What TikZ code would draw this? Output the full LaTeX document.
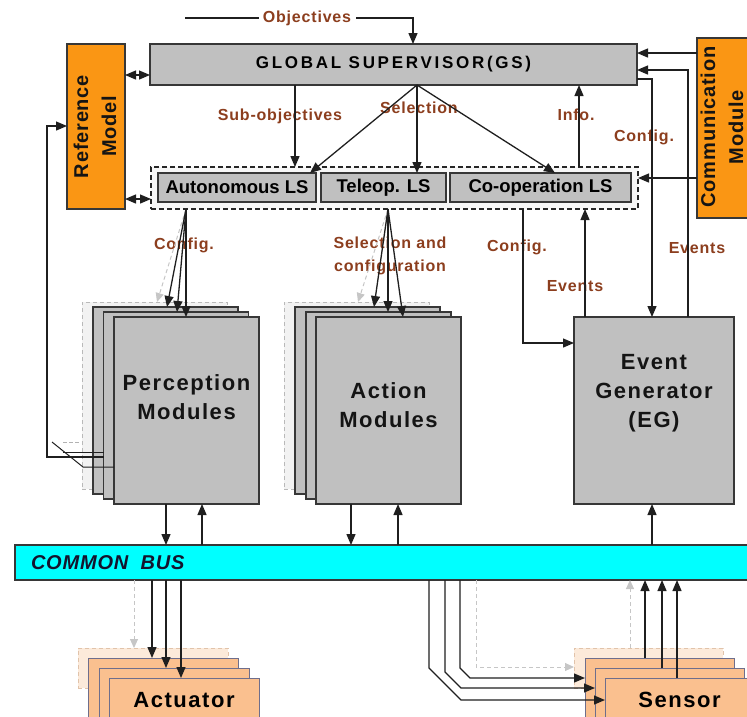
\documentclass[tikz,border=0pt]{standalone}
\usepackage{fontspec}
\setmainfont{Liberation Sans}
\usetikzlibrary{arrows.meta}

\definecolor{lblc}{RGB}{140,62,30}
\definecolor{boxgray}{RGB}{192,192,192}
\definecolor{edge}{RGB}{55,55,55}
\definecolor{orng}{RGB}{250,150,20}
\definecolor{peach}{RGB}{250,192,143}
\definecolor{peachedge}{RGB}{110,110,140}
\definecolor{cyanbus}{RGB}{0,255,255}
\definecolor{busc}{RGB}{20,20,45}
\definecolor{ghostfill}{RGB}{242,242,242}
\definecolor{ghostedge}{RGB}{185,185,185}
\definecolor{peachghost}{RGB}{252,234,218}
\definecolor{peachghostedge}{RGB}{225,195,170}

\newcommand\fsz[2]{\fontsize{#1}{#2}\selectfont}
\newcommand\trk[1]{\addfontfeature{LetterSpace=#1}}

\begin{document}
\begin{tikzpicture}[x=1pt,y=-1pt,
  every node/.style={inner sep=0pt, outer sep=0pt},
  tip/.tip={Triangle[length=11pt,width=9pt]},
  conn/.style={draw=black!88, line width=1.3pt},
  arr/.style={conn, -tip},
  darr/.style={conn, tip-tip},
  ghostarr/.style={draw=gray!45, line width=1pt, dash pattern=on 4pt off 3pt, -{Triangle[length=9pt,width=8pt]}},
  graybox/.style={draw=edge, fill=boxgray, line width=1.3pt},
  orangebox/.style={draw=edge, fill=orng, line width=1.3pt},
  lsframe/.style={draw=black!85, fill=gray!6, line width=1.2pt, dash pattern=on 5pt off 3pt},
  lsbox/.style={graybox, font=\fsz{18.5}{20}\bfseries},
  stackbox/.style={graybox, minimum width=145pt, minimum height=187pt},
  ghostbox/.style={draw=ghostedge, fill=ghostfill, line width=0.9pt, dash pattern=on 4pt off 3pt, minimum width=145pt, minimum height=187pt},
  peachbox/.style={draw=peachedge, fill=peach, line width=1pt, minimum width=150pt},
  peachghostbox/.style={draw=peachghostedge, fill=peachghost, line width=0.9pt, dash pattern=on 4pt off 3pt, minimum width=150pt, minimum height=40pt},
  modtext/.style={align=center, text=black!92, font=\fsz{22}{29}\bfseries\trk{7}},
  rottext/.style={rotate=90, align=center, text=black!92, font=\fsz{20}{28}\bfseries\trk{4}},
  lbl/.style={align=center, text=lblc, font=\fsz{16}{23}\bfseries\trk{5}}]

\useasboundingbox (0,0) rectangle (747,716);
\clip (0,0) rectangle (747,716);

% ---------- supervisor level ----------
\node[graybox, minimum width=487pt, minimum height=41pt,
      font=\fsz{17}{20}\bfseries\trk{16}] (gs) at (393.5,64.5) {GLOBAL SUPERVISOR(GS)};

\node[orangebox, minimum width=58pt, minimum height=165pt] (ref) at (96,126.5) {};
\node[rottext] (reftext) at (95,126.5) {Reference\\Model};

\node[orangebox, minimum width=73pt, minimum height=180pt] (comm) at (733.5,128) {};
\node[rottext] (commtext) at (722,127) {Communication\\Module};

% ---------- local supervisors ----------
\node[lsframe, minimum width=487pt, minimum height=42pt] (lsf) at (394.5,188) {};
\node[lsbox, minimum width=158pt, minimum height=29pt] (auto) at (237,187.5) {Autonomous LS};
\node[lsbox, minimum width=125pt, minimum height=29pt] (tele) at (383.5,187.5) {Teleop. LS};
\node[lsbox, minimum width=181pt, minimum height=29pt] (coop) at (540.5,187.5) {Co-operation LS};

% ---------- module stacks ----------
\node[ghostbox] (pghost) at (154.5,395.5) {};
\node[stackbox] (p1) at (165.5,400.5) {};
\node[stackbox] (p2) at (176,405.5) {};
\node[stackbox] (p3) at (186.5,410.5) {};
\node[modtext] (ptext) at (186.5,397) {Perception\\Modules};

\node[ghostbox] (aghost) at (356.5,395.5) {};
\node[stackbox] (a1) at (367.5,400.5) {};
\node[stackbox] (a2) at (378.5,405.5) {};
\node[stackbox] (a3) at (388.5,410.5) {};
\node[modtext] (atext) at (388.5,405) {Action\\Modules};

\node[graybox, minimum width=160pt, minimum height=187pt] (eg) at (654,410.5) {};
\node[modtext] (egtext) at (654,393.5) {Event\\Generator\\(EG)};

% ---------- bus ----------
\node[draw=edge, fill=cyanbus, line width=1.2pt, minimum width=755pt, minimum height=35pt] (bus) at (392.5,562.5) {};
\node[anchor=west, text=busc, font=\fsz{20}{22}\bfseries\itshape\trk{4}] (bustext) at (31,563) {COMMON\hspace{6pt} BUS};

% ---------- actuators and sensors ----------
\node[peachghostbox] (actghost) at (153,668) {};
\node[peachbox, minimum height=64pt] (act1) at (163,690) {};
\node[peachbox, minimum height=54pt] (act2) at (174,695) {};
\node[peachbox, minimum height=44pt, font=\fsz{22}{26}\bfseries\trk{7}] (act3) at (184,700) {Actuator};

\node[peachghostbox, minimum width=149pt] (sghost) at (648.5,668) {};
\node[peachbox, minimum width=149pt, minimum height=64pt] (s1) at (659.5,690) {};
\node[peachbox, minimum width=149pt, minimum height=54pt] (s2) at (669.5,695) {};
\node[peachbox, minimum width=149pt, minimum height=44pt, font=\fsz{22}{26}\bfseries\trk{7}] (s3) at (679.5,700) {Sensor};

% ---------- labels ----------
\node[lbl] (lobj) at (307,18) {Objectives};
\node[lbl] (lsub) at (280,116) {Sub-objectives};
\node[lbl] (lsel) at (419,108) {Selection};
\node[lbl] (linfo) at (576,115) {Info.};
\node[lbl] (lcfgeg) at (644,137) {Config.};
\node[lbl] (lcfgp) at (184,245) {Config.};
\node[lbl] (lselcfg) at (390,256) {Selection and\\configuration};
\node[lbl] (lcfgco) at (517,247) {Config.};
\node[lbl] (levco) at (575,286) {Events};
\node[lbl] (levgs) at (697,248) {Events};

% ---------- connectors: supervisor level ----------
\coordinate (objin) at (185,18);
\draw[conn] (objin) -- ([xshift=-4pt]lobj.west);
\draw[arr] ([xshift=5pt]lobj.east) -| (gs.north -| 413,0);

\draw[darr] (ref.east |- 0,75) -- (gs.west |- 0,75);
\draw[darr] (ref.east |- 0,199) -- (lsf.west |- 0,199);

\draw[arr] (gs.south -| 295,0) -- (lsf.north -| 295,0);
\draw[arr] (gs.south -| 417,0) -- (auto.north -| 310,0);
\draw[arr] (gs.south -| 417,0) -- (tele.north -| 417,0);
\draw[arr] (gs.south -| 417,0) -- (coop.north -| 555,0);
\draw[arr] (lsf.north -| 579,0) -- (gs.south -| 579,0);

\draw[arr] (comm.west |- 0,53) -- (gs.east |- 0,53);
\draw[arr] (comm.west |- 0,178) -- (lsf.east |- 0,178);

\draw[arr] (gs.east |- 0,79) -| (eg.north -| 652,0);
\draw[arr] (eg.north -| 688,0) |- (gs.east |- 0,70);

\draw[arr] (lsf.south -| 523,0) |- (eg.west |- 0,343);
\draw[arr] (eg.north -| 585,0) -- (lsf.south -| 585,0);

% ---------- connectors: configuration of modules ----------
\draw[ghostarr] (lsf.south -| 186,0) -- (pghost.north -| 157,0);
\draw[arr] (lsf.south -| 186,0) -- (p1.north -| 167,0);
\draw[arr] (lsf.south -| 186,0) -- (p2.north -| 177,0);
\draw[arr] (lsf.south -| 186,0) -- (p3.north -| 186,0);

\draw[ghostarr] (lsf.south -| 388,0) -- (aghost.north -| 358,0);
\draw[arr] (lsf.south -| 388,0) -- (a1.north -| 374,0);
\draw[arr] (lsf.south -| 388,0) -- (a2.north -| 388,0);
\draw[arr] (lsf.south -| 388,0) -- (a3.north -| 403,0);

% ---------- feedback to the reference model ----------
\draw[arr] (p2.west |- 0,457) -- (47,457) |- (ref.west |- 0,126);
\draw[conn, line width=1pt] (52,442) -- (83,467) -- (p3.west |- 0,467);
\draw[conn, line width=1pt] (63,452) -- (p2.west |- 0,452);
\draw[draw=gray!60, line width=1pt, dash pattern=on 4pt off 2pt] (63,442) -- (80,442);

% ---------- connectors to and from the bus ----------
\draw[arr] (p3.south -| 166,0) -- (bus.north -| 166,0);
\draw[arr] (bus.north -| 202,0) -- (p3.south -| 202,0);
\draw[arr] (a3.south -| 351,0) -- (bus.north -| 351,0);
\draw[arr] (bus.north -| 398,0) -- (a3.south -| 398,0);
\draw[arr] (bus.north -| 652,0) -- (eg.south -| 652,0);

\draw[ghostarr] (bus.south -| 134,0) -- (actghost.north -| 134,0);
\draw[arr] (bus.south -| 152,0) -- (act1.north -| 152,0);
\draw[arr] (bus.south -| 166,0) -- (act2.north -| 166,0);
\draw[arr] (bus.south -| 181,0) -- (act3.north -| 181,0);

\draw[ghostarr] (sghost.north -| 630,0) -- (bus.south -| 630,0);
\draw[arr] (s1.north -| 645,0) -- (bus.south -| 645,0);
\draw[arr] (s2.north -| 662,0) -- (bus.south -| 662,0);
\draw[arr] (s3.north -| 677,0) -- (bus.south -| 677,0);

\draw[ghostarr] (bus.south -| 476,0) -- (476,667) -- (sghost.west |- 0,667);
\draw[arr] (bus.south -| 460,0) -- (460,668) -- (470,678) -- (s1.west |- 0,678);
\draw[arr] (bus.south -| 445,0) -- (445,672) -- (461,688) -- (s2.west |- 0,688);
\draw[arr] (bus.south -| 429,0) -- (429,668) -- (461,700) -- (s3.west |- 0,700);

\end{tikzpicture}
\end{document}
